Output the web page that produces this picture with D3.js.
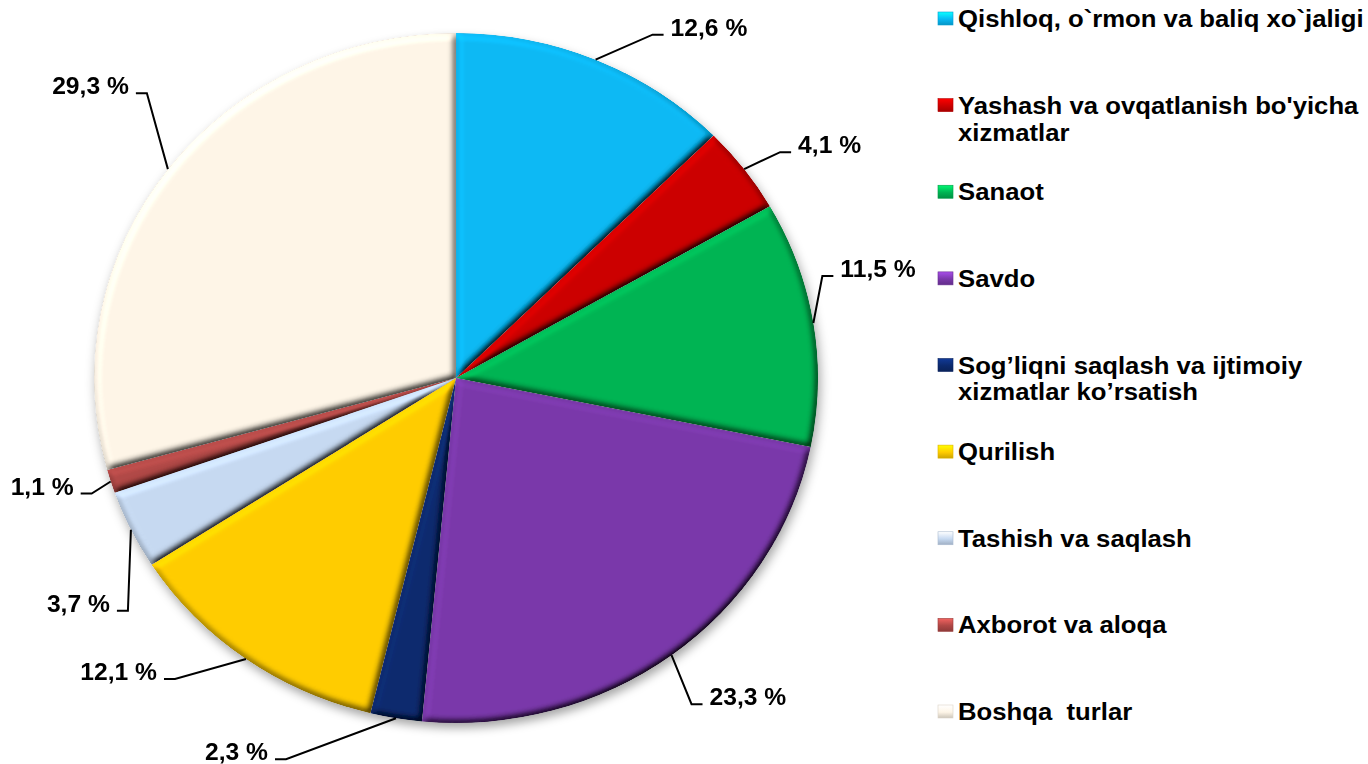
<!DOCTYPE html>
<html>
<head>
<meta charset="utf-8">
<script src="https://cdn.jsdelivr.net/npm/d3@7"></script>
<style>
  html, body { margin: 0; padding: 0; background: #fff; }
  svg text { font-family: "Liberation Sans", Arial, sans-serif; font-weight: bold; fill: #000; white-space: pre; }
</style>
</head>
<body>
<div id="chart"></div>
<script>
// data
const categories = [
    "Qishloq, o`rmon va baliq xo`jaligi",
    "Yashash va ovqatlanish bo'yicha\nxizmatlar",
    "Sanaot",
    "Savdo",
    "Sog’liqni saqlash va ijtimoiy\nxizmatlar ko’rsatish",
    "Qurilish",
    "Tashish va saqlash",
    "Axborot va aloqa",
    "Boshqa  turlar"
];
const values = [12.6, 4.1, 11.5, 23.3, 2.3, 12.1, 3.7, 1.1, 29.3];
const colors = ["#08B9F4", "#CC0000", "#00B453", "#7A38AA", "#0C2A6E", "#FFCC00", "#C6D9F1", "#B04846", "#FEF5E7"];

// label leader offsets (screen px from the slice rim)
const labelNudge = [[57, -25], [36, -17], [9, -47], [20, 49], [-110, 41], [-71, 20], [-3, 81], [-19, 12], [-21, -76]];

// set dimensions
const width = 1368,
    height = 764,
    cx = 456,
    cy = 378,
    R = 345,
    sx = 362 / 345;   // picture is a little stretched sideways

const svg = d3.select("#chart")
    .append("svg")
    .attr("width", width)
    .attr("height", height);

const defs = svg.append("defs");

// bevel look on each slice
const bevel = defs.append("filter")
    .attr("id", "bevel")
    .attr("x", "-5%").attr("y", "-5%")
    .attr("width", "110%").attr("height", "110%");
bevel.append("feGaussianBlur")
    .attr("in", "SourceAlpha")
    .attr("stdDeviation", 3.5)
    .attr("result", "blur");
bevel.append("feDiffuseLighting")
    .attr("in", "blur")
    .attr("surfaceScale", 6)
    .attr("diffuseConstant", 1)
    .attr("lighting-color", "#fff")
    .attr("result", "light")
    .append("feDistantLight")
    .attr("azimuth", 235)
    .attr("elevation", 55);
bevel.append("feComposite")
    .attr("in", "SourceGraphic")
    .attr("in2", "light")
    .attr("operator", "arithmetic")
    .attr("k1", 1.22).attr("k2", 0).attr("k3", 0).attr("k4", 0)
    .attr("result", "lit");
bevel.append("feComposite")
    .attr("in", "lit")
    .attr("in2", "SourceAlpha")
    .attr("operator", "in");

// soft shadow under the pie
const shadow = defs.append("filter")
    .attr("id", "shadow")
    .attr("x", "-10%").attr("y", "-10%")
    .attr("width", "120%").attr("height", "125%");
shadow.append("feDropShadow")
    .attr("dx", 2).attr("dy", 5)
    .attr("stdDeviation", 5)
    .attr("flood-color", "#000")
    .attr("flood-opacity", 0.35);

// legend marker gradients
colors.forEach((c, i) => {
    const gr = defs.append("linearGradient")
        .attr("id", "mk" + i)
        .attr("x1", 0).attr("y1", 0).attr("x2", 0).attr("y2", 1);
    gr.append("stop").attr("offset", "0%").attr("stop-color", d3.color(c).brighter(0.9));
    gr.append("stop").attr("offset", "55%").attr("stop-color", c);
    gr.append("stop").attr("offset", "100%").attr("stop-color", d3.color(c).darker(0.6));
});

// pie
const pie = d3.pie().sort(null).value(d => d);
const arcs = pie(values);
const arc = d3.arc().innerRadius(0).outerRadius(R);
const rim = d3.arc().innerRadius(R).outerRadius(R);

const g = svg.append("g")
    .attr("transform", `translate(${cx},${cy}) scale(${sx},1)`);

g.append("g")
    .attr("filter", "url(#shadow)")
    .selectAll("path")
    .data(arcs)
    .enter()
    .append("path")
    .attr("d", arc)
    .attr("fill", (d, i) => colors[i])
    .attr("filter", "url(#bevel)");

// labels with leader lines
const fmt = d3.format(".1f");
const lineLen = 11 / sx, gap = 7 / sx;

arcs.forEach((d, i) => {
    const [rx, ry] = rim.centroid(d);
    const ex = rx + labelNudge[i][0] / sx;
    const ey = ry + labelNudge[i][1];
    const left = (d.startAngle + d.endAngle) / 2 > Math.PI;
    const hx = left ? ex - lineLen : ex + lineLen;

    g.append("polyline")
        .attr("points", `${rx},${ry} ${ex},${ey} ${hx},${ey}`)
        .attr("fill", "none")
        .attr("stroke", "#000")
        .attr("stroke-width", 2)
        .attr("vector-effect", "non-scaling-stroke");

    g.append("text")
        .attr("x", left ? hx - gap : hx + gap)
        .attr("y", ey + 1)
        .attr("text-anchor", left ? "end" : "start")
        .attr("font-size", 23.5)
        .text(fmt(values[i]).replace(".", ",") + " %");
});

// legend
const legendY = d3.scalePoint()
    .domain(d3.range(categories.length))
    .range([27, 720]);

const legend = svg.append("g")
    .attr("transform", `scale(${sx},1)`);

const items = legend.selectAll("g")
    .data(categories)
    .enter()
    .append("g")
    .attr("transform", (d, i) => `translate(0,${legendY(i)})`);

items.append("rect")
    .attr("x", 938 / sx)
    .attr("y", -15)
    .attr("width", 15 / sx)
    .attr("height", 13)
    .attr("fill", (d, i) => `url(#mk${i})`)
    .attr("stroke", (d, i) => d3.color(colors[i]).darker(0.4))
    .attr("stroke-width", 0.6);

items.append("text")
    .attr("x", 958 / sx)
    .attr("font-size", 24.5)
    .each(function(d) {
        const t = d3.select(this);
        d.split("\n").forEach((line, k) => {
            t.append("tspan")
                .attr("x", 958 / sx)
                .attr("dy", k === 0 ? 0 : 27)
                .text(line);
        });
    });
</script>
</body>
</html>
